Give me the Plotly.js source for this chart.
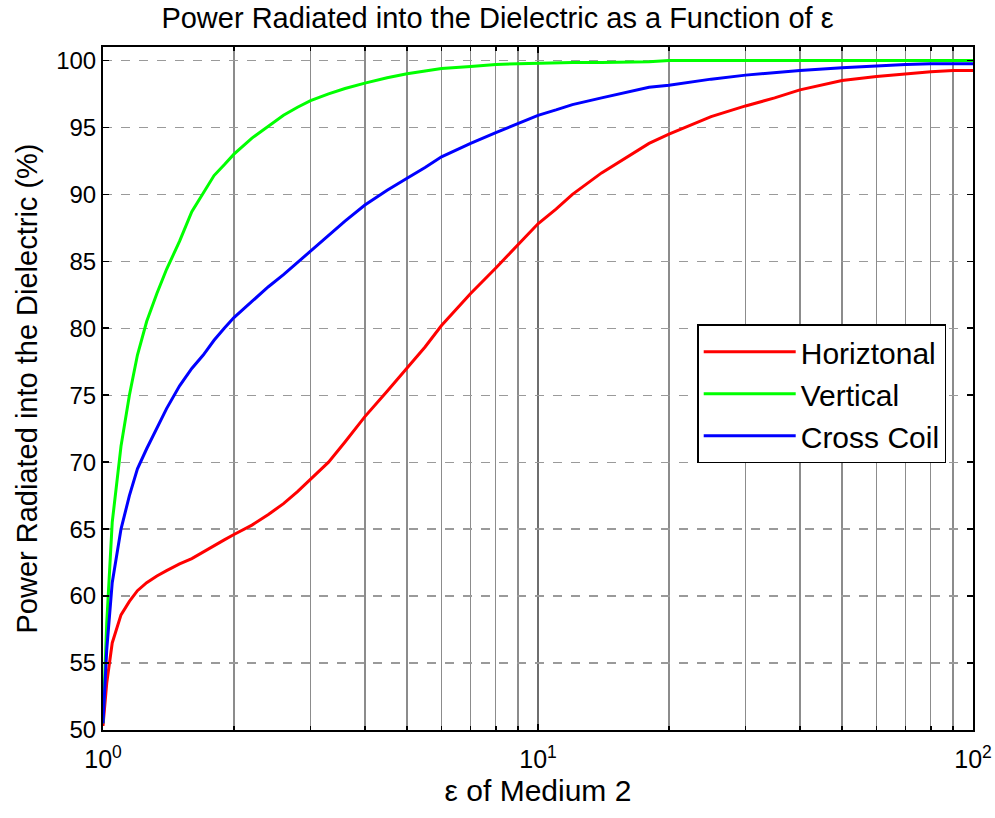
<!DOCTYPE html>
<html>
<head>
<meta charset="utf-8">
<script src="https://cdn.plot.ly/plotly-3.0.1.min.js"></script>
<style>html,body{margin:0;padding:0;background:#fff;}#chart{width:995px;height:818px;}</style>
</head>
<body>
<div id="chart"></div>
<script>
const epsilon = [1, 1.02, 1.05, 1.1, 1.15, 1.2, 1.26, 1.33, 1.4, 1.5, 1.6, 1.7, 1.8, 1.9, 2.0, 2.2, 2.4, 2.6, 2.8, 3.0, 3.3, 3.6, 4.0, 4.5, 5.0, 5.5, 6.0, 7.0, 8.0, 9.0, 10, 11, 12, 14, 16, 18, 20, 25, 30, 35, 40, 50, 60, 70, 80, 90, 100];
const horizontal = [50.3, 53.5, 56.5, 58.6, 59.6, 60.4, 61.0, 61.5, 61.9, 62.4, 62.8, 63.3, 63.8, 64.2, 64.6, 65.3, 66.1, 66.9, 67.8, 68.7, 70.0, 71.5, 73.4, 75.3, 77.0, 78.6, 80.2, 82.6, 84.5, 86.2, 87.8, 88.9, 90.0, 91.6, 92.8, 93.8, 94.5, 95.8, 96.6, 97.2, 97.8, 98.5, 98.8, 99.0, 99.15, 99.25, 99.25];
const vertical = [50.5, 58, 65.5, 71.2, 75, 78, 80.5, 82.6, 84.4, 86.5, 88.7, 90.1, 91.4, 92.2, 93.0, 94.2, 95.1, 95.9, 96.5, 97.0, 97.5, 97.9, 98.3, 98.7, 99.0, 99.2, 99.4, 99.55, 99.7, 99.75, 99.8, 99.85, 99.85, 99.85, 99.85, 99.9, 100, 100, 100, 100, 100, 100, 100, 100, 100, 100, 100];
const crossCoil = [50.5, 56, 61, 65, 67.5, 69.5, 71.0, 72.6, 74.0, 75.7, 77.0, 78.0, 79.1, 80.0, 80.8, 82.0, 83.1, 84.0, 84.9, 85.8, 86.9, 88.0, 89.2, 90.3, 91.2, 92.0, 92.8, 93.8, 94.6, 95.3, 95.9, 96.3, 96.7, 97.2, 97.6, 98.0, 98.15, 98.6, 98.9, 99.1, 99.25, 99.45, 99.6, 99.7, 99.75, 99.75, 99.75];
const seriesNames = ['Horiztonal', 'Vertical', 'Cross Coil'];
const xTickVals = [1, 10, 100];
const xTickText = ['10<sup>0</sup>', '10<sup>1</sup>', '10<sup>2</sup>'];
const xMinorVals = [2,3,4,5,6,7,8,9,20,30,40,50,60,70,80,90];
const yTickVals = [50,55,60,65,70,75,80,85,90,95,100];

const FONT = 'Arial, "Liberation Sans", sans-serif';
const colors = ['#ff0000', '#00ff00', '#0000ff'];
const ys = [horizontal, vertical, crossCoil];
const traces = ys.map((y, i) => ({
  x: epsilon, y: y, type: 'scatter', mode: 'lines', name: seriesNames[i],
  line: {color: colors[i], width: 3}
}));

const layout = {
  width: 995, height: 818,
  paper_bgcolor: '#ffffff', plot_bgcolor: '#ffffff',
  margin: {l: 103, r: 22, t: 47, b: 88},
  title: {text: 'Power Radiated into the Dielectric as a Function of ε', font: {family: FONT, size: 29, color: '#000'}, x: 0.5, xanchor: 'center', y: 0.978, yanchor: 'middle'},
  font: {family: FONT, color: '#000'},
  xaxis: {
    type: 'log', range: [0, 2],
    tickmode: 'array', tickvals: xTickVals, ticktext: xTickText,
    showgrid: true, gridcolor: '#6e6e6e', gridwidth: 1.3,
    ticks: 'inside', ticklen: 6, tickcolor: '#000', tickwidth: 1.5,
    minor: {tickmode: 'array', tickvals: xMinorVals, showgrid: true, gridcolor: '#8c8c8c', gridwidth: 1.3,
            ticks: 'inside', ticklen: 4, tickcolor: '#000', tickwidth: 1.5},
    showline: true, linecolor: '#000', linewidth: 2, mirror: 'ticks',
    zeroline: false,
    tickfont: {family: FONT, size: 25, color: '#000'},
    ticklabelstandoff: 6,
    title: {text: 'ε of Medium 2', font: {family: FONT, size: 30, color: '#000'}, standoff: 8}
  },
  yaxis: {
    range: [50, 101],
    tickmode: 'array', tickvals: yTickVals,
    showgrid: true, gridcolor: '#9a9a9a', gridwidth: 1.3, griddash: 'dash',
    ticks: 'inside', ticklen: 6, tickcolor: '#000', tickwidth: 1.5,
    showline: true, linecolor: '#000', linewidth: 2, mirror: 'ticks',
    zeroline: false,
    tickfont: {family: FONT, size: 24, color: '#000'},
    title: {text: 'Power Radiated into the Dielectric (%)', font: {family: FONT, size: 29, color: '#000'}, standoff: 10}
  },
  showlegend: true,
  legend: {
    x: 0.683, y: 0.594, xanchor: 'left', yanchor: 'top',
    bgcolor: '#ffffff', bordercolor: '#000', borderwidth: 1.5,
    font: {family: FONT, size: 30, color: '#000'},
    traceorder: 'normal', itemwidth: 92
  }
};

Plotly.newPlot('chart', traces, layout, {displayModeBar: false, staticPlot: true});
</script>
</body>
</html>
